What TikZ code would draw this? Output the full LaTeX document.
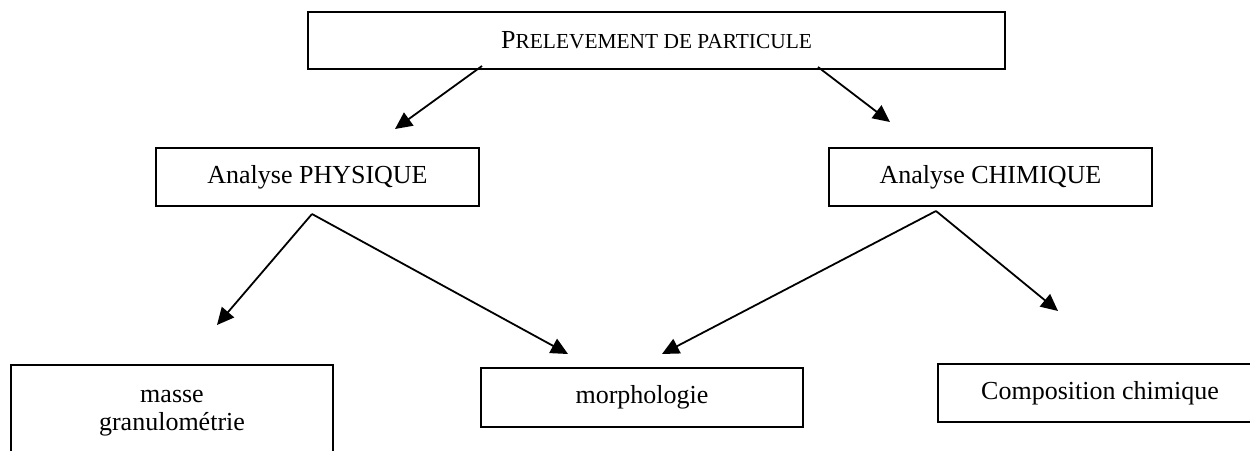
\documentclass[tikz,border=0pt]{standalone}
\usepackage{fontspec}
\setmainfont{Liberation Serif}
\usetikzlibrary{arrows.meta}
\newcommand{\smallcapsfake}[1]{{\fontsize{21.4pt}{24pt}\selectfont #1}}
\begin{document}
\begin{tikzpicture}[x=1pt,y=-1pt,
  box/.style={draw, line width=2pt, inner sep=0pt, align=center,
    font=\fontsize{26pt}{25pt}\selectfont},
  arr/.style={line width=1.8pt, -{Triangle[length=17pt,width=16pt]}}]
\useasboundingbox (0,0) rectangle (1250,450);
\clip (0,0) rectangle (1250,450);
\fill[white] (0,0) rectangle (1250,450);
\node[box, minimum width=697pt, minimum height=57pt] (top) at (656.5,40.5)
  {P\smallcapsfake{RELEVEMENT DE PARTICULE}};
\node[box, minimum width=323pt, minimum height=58pt] (phys) at (317.5,177) {Analyse PHYSIQUE};
\node[box, minimum width=323pt, minimum height=58pt] (chim) at (990.5,177) {Analyse CHIMIQUE};
\node[box, minimum width=322pt, minimum height=96pt, anchor=north] (masse) at (172,364) {masse\\[3pt]granulométrie};
\node[box, minimum width=322pt, minimum height=59pt] (morph) at (642,397.5) {morphologie};
\node[box, minimum width=324pt, minimum height=58pt] (comp) at (1100,393) {Composition chimique};
\draw[arr] ([xshift=-174.5pt,yshift=4pt]top.south) -- ([xshift=77.5pt,yshift=18pt]phys.north);
\draw[arr] ([xshift=161.5pt,yshift=3pt]top.south) -- ([xshift=-100.5pt,yshift=25pt]chim.north);
\draw[arr] ([xshift=-5.5pt,yshift=-7pt]phys.south) -- ([xshift=45pt,yshift=39pt]masse.north);
\draw[arr] ([xshift=-5.5pt,yshift=-7pt]phys.south) -- ([xshift=-74pt,yshift=13pt]morph.north);
\draw[arr] ([xshift=-54.5pt,yshift=-4pt]chim.south) -- ([xshift=20pt,yshift=13pt]morph.north);
\draw[arr] ([xshift=-54.5pt,yshift=-4pt]chim.south) -- ([xshift=-42pt,yshift=52pt]comp.north);
\end{tikzpicture}
\end{document}
